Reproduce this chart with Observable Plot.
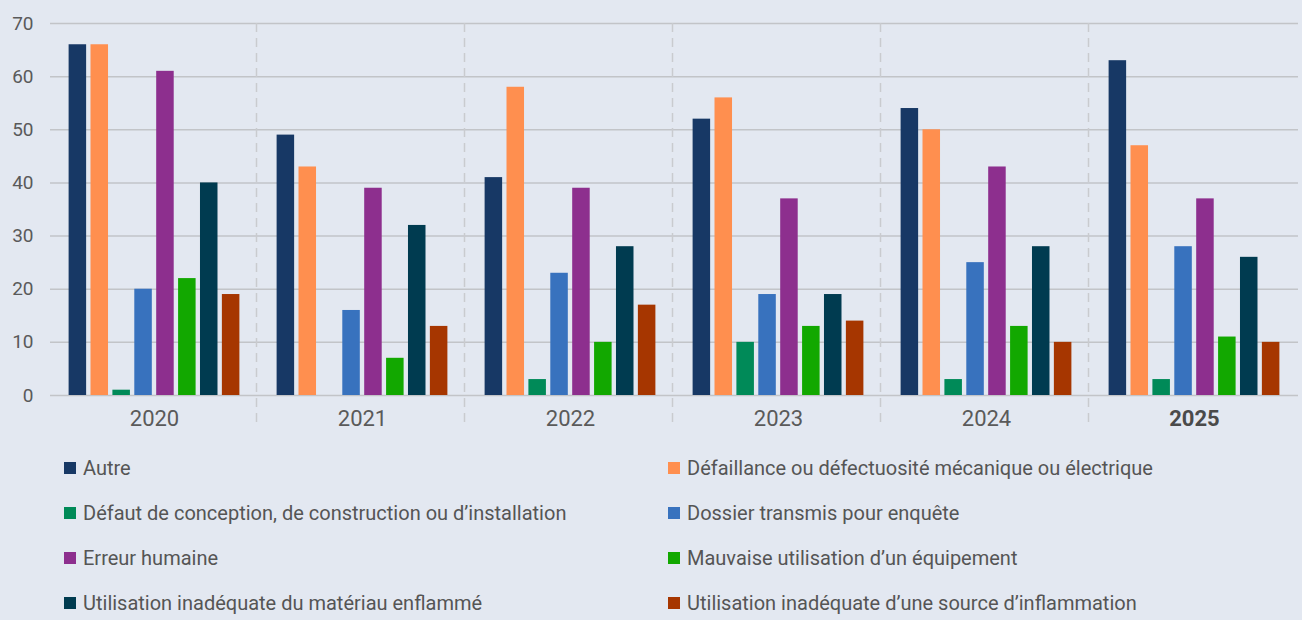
<!DOCTYPE html>
<html><head><meta charset="utf-8">
<script src="https://cdn.jsdelivr.net/npm/d3@7"></script>
<script src="https://cdn.jsdelivr.net/npm/@observablehq/plot@0.6"></script>
<style>
body{margin:0;background:#e3e8f1;}
#chart{width:1302px;height:620px;overflow:hidden;font-family:Roboto,sans-serif;}
.legend{display:grid;grid-template-columns:604px 630px;padding-left:64px;}
.item{height:45px;display:flex;align-items:center;font-size:20px;color:#555;white-space:nowrap;}
.sw{width:12px;height:12px;margin-right:7px;flex:none;}
</style></head><body><div id="chart"></div>
<script>
const years = ["2020","2021","2022","2023","2024","2025"];
const causes = [
  "Autre",
  "Défaillance ou défectuosité mécanique ou électrique",
  "Défaut de conception, de construction ou d’installation",
  "Dossier transmis pour enquête",
  "Erreur humaine",
  "Mauvaise utilisation d’un équipement",
  "Utilisation inadéquate du matériau enflammé",
  "Utilisation inadéquate d’une source d’inflammation"
];
const colors = ["#173865","#ff8f4f","#008a58","#3872be","#8d2f8e","#12a800","#003b50","#a63600"];
const autre      = [66,49,41,52,54,63];
const defaillance= [66,43,58,56,50,47];
const defaut     = [1,0,3,10,3,3];
const dossier    = [20,16,23,19,25,28];
const erreur     = [61,39,39,37,43,37];
const mauvaise   = [22,7,10,13,13,11];
const materiau   = [40,32,28,19,28,26];
const source     = [19,13,17,14,10,10];
const yTicks = [0,10,20,30,40,50,60,70];

const series = [autre, defaillance, defaut, dossier, erreur, mauvaise, materiau, source];
const table = [];
years.forEach((yr, i) => causes.forEach((c, j) => table.push({year: yr, cause: c, value: series[j][i]})));

function sepRender(index, scales, values, dims) {
  const g = d3.create("svg:g");
  if (index.length) {
    g.append("line")
      .attr("x1", dims.marginLeft - 1.5).attr("x2", dims.marginLeft - 1.5)
      .attr("y1", dims.marginTop).attr("y2", dims.height - dims.marginBottom + 30)
      .attr("stroke", "#c9cbcf").attr("stroke-width", 1.5).attr("stroke-dasharray", "9,6");
  }
  return g.node();
}

const chart = Plot.plot({
  width: 1302, height: 445,
  marginLeft: 50, marginRight: 4, marginTop: 23, marginBottom: 50,
  style: {background: "transparent", fontFamily: "Roboto, sans-serif", overflow: "visible"},
  fx: {domain: years, padding: 0, round: false},
  x: {domain: causes, axis: null, paddingInner: 0.2, paddingOuter: 0.85, round: false},
  y: {domain: [0, 70]},
  color: {domain: causes, range: colors},
  marks: [
    Plot.gridY(yTicks, {stroke: "#c2c4c8", strokeOpacity: 1, strokeWidth: 1.5}),
    Plot.ruleX(years.slice(1), {fx: d => d, x: null, render: sepRender}),
    Plot.barY(table, {fx: "year", x: "cause", y: "value", fill: "cause"}),
    Plot.axisY(yTicks, {tickSize: 0, tickPadding: 17, fontSize: 19, color: "#5a5a5a", label: null}),
    Plot.axisFx({anchor: "bottom", ticks: years.slice(0, 5), tickSize: 0, tickPadding: 15, fontSize: 22, color: "#5a5a5a", label: null}),
    Plot.axisFx({anchor: "bottom", ticks: years.slice(5), tickSize: 0, tickPadding: 15, fontSize: 22, fontWeight: "bold", color: "#4a4a4a", label: null})
  ]
});
const root = document.getElementById("chart");
root.appendChild(chart);
const leg = document.createElement("div");
leg.className = "legend";
causes.forEach((c, j) => {
  const it = document.createElement("div");
  it.className = "item";
  const sw = document.createElement("span");
  sw.className = "sw"; sw.style.background = colors[j];
  const t = document.createElement("span");
  t.textContent = c;
  it.appendChild(sw); it.appendChild(t);
  leg.appendChild(it);
});
root.appendChild(leg);
</script></body></html>
